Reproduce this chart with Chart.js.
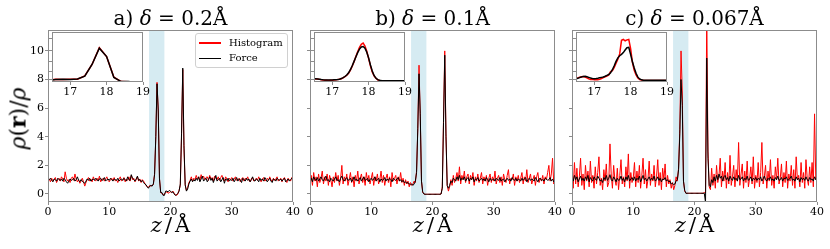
<!DOCTYPE html>
<html>
<head>
<meta charset="utf-8">
<script src="https://cdn.jsdelivr.net/npm/chart.js@4.4.1/dist/chart.umd.min.js"></script>
<style>
  html, body { margin: 0; padding: 0; background: #fff; }
  #fig { position: relative; width: 830px; height: 249px; overflow: hidden; font-family: 'DejaVu Serif', serif; color: #000; }
  .abs { position: absolute; }
  .title { font-size: 20px; line-height: 20px; text-align: center; white-space: nowrap; }
  .xlab { font-size: 21px; line-height: 21px; text-align: center; white-space: nowrap; }
  .ylab { font-size: 22px; line-height: 22px; width: 100px; text-align: center; transform: rotate(-90deg); white-space: nowrap; }
  .legend { border: 1px solid #d0d0d0; border-radius: 3px; background: rgba(255,255,255,0.8); box-sizing: border-box; font-size: 10px; }
  .legend .sw { position: absolute; left: 3px; width: 22px; height: 1.5px; }
  .legend .tx { position: absolute; left: 33px; line-height: 12px; }
</style>
</head>
<body>
<div id="fig"></div>
<script>
// grid of the density profiles (Å)
const zStart = 0, zStep = 0.2;
const insetStart = 16.5, insetStep = 0.05;
const bandRange = [16.5, 19];
const xTicks = [0, 10, 20, 30, 40];
const yTicks = [0, 2, 4, 6, 8, 10];
const insetXTicks = [17, 18, 19];
const insetYTicks = [0.5, 2.3, 4.6, 7.1, 10];
const seriesNames = ['Histogram', 'Force'];

// a) delta = 0.2 Å
const aHist = [
  0.95,1.05,0.85,1.1,0.9,1.0,1.15,0.8,1.0,1.1,
  0.9,1.2,1.05,0.85,1.55,1.1,0.9,1.0,0.8,1.1,
  1.2,0.95,1.4,1.05,0.85,1.0,0.75,0.9,1.1,0.85,
  0.55,0.8,1.0,1.15,0.9,1.05,0.85,1.2,1.0,0.9,
  1.1,0.95,1.25,0.85,1.0,1.1,0.9,1.05,1.2,0.95,
  0.85,1.0,1.1,0.95,1.15,0.9,1.0,0.8,1.05,1.2,
  0.9,1.0,1.15,0.85,1.05,0.95,1.2,0.9,1.3,1.0,
  1.1,0.85,1.0,1.2,0.9,1.05,0.8,1.0,0.9,0.75,
  0.6,0.5,0.45,0.6,0.55,0.6,0.65,1.4,4.0,7.8,
  5.8,1.1,0.1,0.05,-0.05,0.0,0.1,0.15,0.05,0.1,
  0.15,0.1,0.2,0.05,-0.05,-0.1,0.0,0.25,0.6,4.0,
  8.7,3.2,0.6,0.25,0.45,0.8,0.95,1.2,0.9,1.1,
  1.0,1.3,1.05,1.2,0.95,1.35,1.1,1.25,1.0,1.15,
  1.2,0.95,1.3,1.05,1.15,0.9,1.25,1.1,1.0,1.2,
  0.95,1.15,1.3,1.0,0.9,1.2,1.05,0.85,1.1,1.0,
  1.15,0.9,1.05,1.2,0.95,1.0,1.1,0.85,1.05,1.15,
  0.9,1.1,1.0,1.2,0.95,0.85,1.05,1.15,0.9,1.0,
  1.1,0.95,1.2,1.0,0.85,1.05,1.15,0.9,1.0,1.1,
  0.95,1.2,1.0,0.85,1.1,0.95,1.05,1.2,0.9,1.0,
  1.1,0.85,1.05,1.15,0.95,0.8,1.1,1.0,0.9,1.15,1.05
];
const aForce = [
  0.9,1.0,1.1,0.95,0.85,1.05,1.0,0.9,1.1,1.0,
  0.95,1.05,0.9,1.1,1.0,0.85,0.75,0.9,1.05,0.95,
  1.0,1.1,0.9,1.0,1.2,0.95,0.85,1.0,0.9,0.8,
  0.75,0.9,1.05,0.95,1.1,0.9,1.0,1.05,0.95,1.1,
  1.0,0.9,1.05,1.1,0.95,1.0,1.15,0.9,1.0,1.05,
  0.95,1.1,1.0,0.9,1.05,1.0,0.95,1.1,0.9,1.0,
  1.05,0.95,1.1,1.0,0.9,1.2,1.0,0.95,1.35,1.1,
  1.0,0.9,1.05,1.25,0.95,1.0,0.85,0.95,0.8,0.7,
  0.65,0.5,0.4,0.55,0.6,0.55,0.7,1.35,4.0,7.7,
  5.8,1.05,0.1,0.1,-0.1,-0.1,0.2,0.2,0.15,0.25,
  0.2,0.1,0.15,0.0,-0.1,-0.05,0.05,0.2,0.7,4.2,
  8.8,3.4,0.65,0.2,0.35,0.7,0.9,1.05,0.85,1.0,
  0.9,1.1,0.95,1.2,0.85,1.05,1.25,0.9,1.0,1.1,
  0.85,1.0,1.2,0.95,1.1,0.8,1.05,1.3,0.9,1.0,
  1.1,0.85,1.0,1.15,0.75,1.05,0.95,1.1,0.9,1.0,
  0.95,1.1,0.85,1.0,1.15,0.9,1.05,1.0,0.8,1.1,
  1.0,0.9,1.1,0.95,1.05,0.85,1.0,1.2,0.95,0.9,
  1.05,1.0,0.85,1.1,0.95,1.05,0.9,1.15,1.0,0.85,
  1.0,1.1,0.9,0.8,1.05,1.0,0.9,1.1,1.0,0.95,
  1.05,0.9,1.0,1.1,0.85,0.95,1.05,0.9,1.0,1.1,1.0
];

// b) delta = 0.1 Å
const bHist = [
  0.7,1.3,0.6,1.5,0.9,1.2,0.5,1.4,0.8,1.1,
  1.6,0.7,1.2,0.9,1.4,0.6,1.3,1.0,0.5,1.2,
  0.8,1.5,0.9,1.3,0.6,1.1,2.0,0.7,1.2,0.9,
  1.4,0.6,1.0,1.5,0.8,1.2,0.5,1.3,0.9,1.6,
  0.7,1.1,1.4,0.8,1.2,0.6,1.5,0.9,1.3,0.7,
  1.1,1.5,0.6,1.2,0.9,1.4,0.7,1.0,1.6,0.8,
  1.3,0.6,1.1,1.4,0.8,1.2,0.5,1.5,0.9,1.1,
  1.3,0.7,1.2,0.9,1.5,0.8,1.1,0.6,1.0,0.7,
  0.9,0.5,0.8,0.6,0.7,0.9,0.8,1.6,4.6,9.0,
  5.4,0.9,0.1,0.0,-0.02,-0.02,-0.02,-0.02,-0.02,-0.02,
  -0.02,-0.02,-0.02,-0.02,-0.02,-0.02,-0.02,0.0,0.5,5.2,
  10.0,4.2,0.6,0.2,0.5,1.0,0.6,1.3,0.8,1.1,
  1.5,0.9,1.9,0.7,1.3,1.0,1.6,0.8,1.2,1.4,
  0.7,1.3,1.0,1.5,0.6,1.2,0.9,1.4,0.8,1.1,
  1.5,0.7,1.2,0.9,1.3,0.6,1.1,1.4,0.8,1.2,
  0.9,1.6,0.7,1.1,1.3,0.8,1.2,0.6,1.4,1.0,
  0.8,1.3,1.7,0.7,1.1,1.0,1.4,0.6,1.2,0.9,
  1.3,0.8,1.1,1.5,0.7,1.2,0.9,1.7,0.8,1.1,
  1.4,0.7,1.0,1.3,0.6,1.2,1.5,0.8,1.1,0.9,
  1.3,0.7,1.2,1.0,1.5,2.0,0.9,1.4,2.5,0.7,1.1
];
const bForce = [
  0.9,1.1,0.85,1.2,1.0,0.95,1.15,0.9,1.05,1.2,
  1.0,0.9,1.1,1.25,0.95,1.0,0.85,1.1,1.0,0.9,
  1.05,1.2,0.95,1.0,0.85,1.1,1.25,1.0,0.9,1.05,
  1.15,0.95,1.0,1.1,0.85,1.0,1.2,0.95,1.05,0.9,
  1.0,1.15,0.9,1.05,1.2,0.95,1.0,1.1,0.85,1.0,
  1.1,0.95,1.05,1.2,0.9,1.0,1.1,0.85,1.05,0.95,
  1.0,1.15,0.9,1.05,0.95,1.1,1.0,0.85,1.1,1.0,
  0.95,1.05,1.15,0.9,1.0,0.85,0.95,0.8,0.85,0.75,
  0.8,0.7,0.65,0.7,0.6,0.7,0.9,1.5,4.6,8.4,
  5.6,0.9,0.15,0.0,-0.02,-0.02,-0.02,-0.02,-0.02,-0.02,
  -0.02,-0.02,-0.02,-0.02,-0.02,-0.02,-0.02,0.0,0.4,5.0,
  9.7,4.0,0.6,0.4,0.6,0.9,0.8,1.1,1.0,0.9,
  1.2,1.0,1.3,0.95,1.1,1.0,1.2,0.9,1.05,1.15,
  0.9,1.1,1.0,1.2,0.85,1.05,1.0,1.15,0.9,1.0,
  1.1,0.95,1.05,0.9,1.15,1.0,0.85,1.1,0.95,1.0,
  1.05,0.9,1.1,1.0,0.95,1.15,0.9,1.0,1.05,0.85,
  1.0,1.1,0.95,1.05,0.9,1.15,1.0,0.95,1.1,0.9,
  1.05,1.0,0.9,1.1,0.95,1.05,1.15,0.85,1.0,1.1,
  0.95,1.05,1.0,0.9,1.15,1.0,0.85,1.05,1.1,0.95,
  1.0,0.9,1.1,1.05,0.95,1.0,1.15,0.9,1.05,0.85,1.0
];

// c) delta = 0.067 Å
const cHist = [
  1.5,0.4,2.2,0.7,1.8,0.5,1.2,2.5,0.6,1.4,
  0.3,2.0,0.9,1.6,0.5,2.3,0.8,1.3,0.4,1.9,
  0.7,1.5,2.6,0.6,1.1,0.3,1.7,0.9,2.1,0.5,
  0.8,3.5,1.4,0.4,2.0,1.0,0.6,1.8,0.3,1.3,
  2.4,0.7,1.2,0.5,1.9,0.9,2.8,0.4,1.5,0.8,
  1.1,2.2,0.5,1.6,0.8,2.0,0.4,1.3,2.5,0.7,
  1.7,0.4,1.0,2.3,0.6,1.4,0.9,2.0,0.5,1.2,
  2.4,0.6,1.5,0.3,1.8,1.0,2.1,0.5,1.3,0.7,
  1.0,0.4,0.8,0.3,0.6,1.2,0.9,1.8,4.5,10.0,
  7.2,0.9,0.2,0.05,0.05,0.05,0.05,0.05,0.05,0.05,
  0.05,0.05,0.05,0.05,0.05,0.05,0.05,0.05,0.1,0.1,
  12.5,3.0,0.5,0.3,1.8,0.6,1.4,0.4,2.0,0.8,
  1.3,2.5,0.5,1.6,0.9,2.2,0.4,1.5,0.7,2.7,
  0.6,1.2,2.0,0.5,1.7,0.9,3.6,0.6,1.4,2.1,
  0.4,1.6,0.8,2.3,0.5,1.1,1.9,0.7,2.6,0.4,
  1.3,0.8,2.2,0.5,1.5,3.6,0.7,1.2,2.0,0.4,
  1.6,0.9,2.4,0.6,1.3,0.4,1.9,1.0,2.5,0.7,
  1.1,2.1,0.5,1.5,0.8,2.3,0.4,1.4,0.9,2.0,
  0.6,1.7,0.4,2.6,1.0,1.3,0.5,2.2,0.8,1.5,
  0.4,2.4,1.1,0.6,1.9,0.8,2.2,0.5,5.6,1.0,1.5
];
const cForce = [
  1.1,0.9,1.3,1.0,1.2,0.85,1.05,1.25,0.95,1.1,
  0.9,1.2,1.0,1.3,0.85,1.15,1.0,0.9,1.2,1.05,
  0.95,1.25,1.1,0.9,1.0,0.8,1.15,1.0,1.3,0.95,
  1.1,1.35,1.0,0.9,1.2,1.05,0.85,1.1,0.95,1.0,
  1.25,0.95,1.1,0.85,1.2,1.0,1.3,0.9,1.05,1.15,
  0.95,1.2,0.9,1.1,1.0,1.25,0.85,1.05,1.3,1.0,
  1.1,0.9,1.05,1.2,0.95,1.1,1.0,1.25,0.9,1.0,
  1.2,0.95,1.1,0.85,1.05,1.0,1.15,0.9,1.0,0.85,
  0.9,0.7,0.75,0.65,0.7,0.9,1.0,1.7,4.2,8.0,
  6.2,0.9,0.25,0.05,0.05,0.05,0.05,0.05,0.05,0.05,
  0.05,0.05,0.05,0.05,0.05,0.05,0.05,0.05,0.05,-0.6,
  9.5,2.5,0.6,0.5,1.0,0.8,1.2,0.9,1.3,1.0,
  1.4,1.1,1.25,0.9,1.2,1.3,1.0,1.15,0.9,1.25,
  1.05,0.95,1.2,1.0,1.1,0.9,1.3,1.0,1.05,1.2,
  0.9,1.1,1.0,1.25,0.95,1.05,1.2,0.9,1.1,1.0,
  1.15,0.95,1.1,1.0,1.2,0.9,1.05,1.25,1.0,0.9,
  1.1,1.0,1.2,0.95,1.05,0.9,1.15,1.0,1.25,0.95,
  1.0,1.15,0.9,1.1,1.05,1.2,0.95,1.0,1.1,1.25,
  0.95,1.05,0.9,1.2,1.0,1.1,0.85,1.15,1.0,1.1,
  0.95,1.2,1.0,0.9,1.15,1.0,1.05,0.9,1.2,1.0,1.1
];

// insets, 16.5–19 Å at 0.05 Å
const bInsetHist = [
  0.78,0.70,0.66,0.60,0.52,0.46,0.40,0.38,0.36,0.40,
  0.42,0.45,0.50,0.55,0.62,0.74,0.95,1.20,1.55,2.00,
  2.70,3.60,4.60,5.80,6.90,7.90,8.60,8.90,8.20,7.00,
  5.40,3.70,2.30,1.40,0.85,0.50,0.36,0.30,0.27,0.26,
  0.25,0.26,0.25,0.24,0.25,0.25,0.24,0.25,0.25,0.24,0.25
];
const bInsetForce = [
  0.75,0.72,0.68,0.62,0.55,0.50,0.47,0.45,0.44,0.45,
  0.47,0.50,0.53,0.58,0.65,0.78,0.98,1.25,1.60,2.10,
  2.80,3.70,4.70,5.70,6.70,7.50,8.00,8.10,7.70,6.80,
  5.50,3.90,2.50,1.50,0.90,0.55,0.40,0.32,0.30,0.29,
  0.28,0.28,0.28,0.27,0.28,0.28,0.27,0.27,0.28,0.28,0.28
];
const cInsetHist = [
  0.80,0.95,1.10,1.20,1.25,1.15,0.95,0.70,0.55,0.62,
  0.50,0.58,0.52,0.60,0.80,1.00,1.20,1.35,1.60,2.40,
  2.60,3.30,4.30,5.20,6.40,9.50,9.70,9.40,9.60,9.70,
  7.60,4.50,2.70,1.60,0.90,0.55,0.45,0.38,0.35,0.34,
  0.34,0.34,0.35,0.34,0.34,0.34,0.35,0.34,0.34,0.34,0.34
];
const cInsetForce = [
  0.75,0.85,1.00,1.15,1.28,1.30,1.20,1.05,0.90,0.80,
  0.75,0.78,0.85,0.95,1.05,1.15,1.30,1.50,1.70,2.10,
  2.80,3.70,4.70,5.50,6.00,6.30,6.70,7.30,7.80,7.90,
  6.30,4.60,3.20,2.00,1.10,0.70,0.50,0.42,0.40,0.38,
  0.38,0.38,0.38,0.38,0.38,0.38,0.38,0.38,0.38,0.38,0.38
];

const RED = '#ff0000', BLACK = '#000000', FRAME = '#8c8c8c', BAND = 'rgba(173,216,230,0.5)';
const FONT = 'DejaVu Serif';

const panels = [
  { left: 48, tag: 'a)', delta: '0.2', hist: aHist, force: aForce,
    inset: { hist: aHist, force: aForce, start: zStart, step: zStep }, yLabels: true, legend: true },
  { left: 310, tag: 'b)', delta: '0.1', hist: bHist, force: bForce,
    inset: { hist: bInsetHist, force: bInsetForce, start: insetStart, step: insetStep } },
  { left: 572, tag: 'c)', delta: '0.067', hist: cHist, force: cForce,
    inset: { hist: cInsetHist, force: cInsetForce, start: insetStart, step: insetStep } }
];

const PLOT = { top: 30, w: 245, h: 172 };
const INSET = { dx: 4, top: 32, w: 91, h: 50 };

const fig = document.getElementById('fig');

const decor = {
  id: 'decor',
  beforeDraw(chart, args, o) {
    if (!o.fill) return;
    const { ctx, chartArea: a } = chart;
    ctx.save(); ctx.fillStyle = o.fill; ctx.fillRect(a.left, a.top, a.width, a.height); ctx.restore();
  },
  beforeDatasetsDraw(chart, args, o) {
    if (!o.band) return;
    const { ctx, chartArea: a, scales: { x } } = chart;
    const x0 = x.getPixelForValue(o.band[0]), x1 = x.getPixelForValue(o.band[1]);
    ctx.save(); ctx.fillStyle = BAND; ctx.fillRect(x0, a.top, x1 - x0, a.height); ctx.restore();
  },
  afterDatasetsDraw(chart) {
    const { ctx, chartArea: a } = chart;
    ctx.save(); ctx.strokeStyle = FRAME; ctx.lineWidth = 1;
    ctx.strokeRect(a.left + 0.5, a.top + 0.5, a.width - 1, a.height - 1); ctx.restore();
  }
};

function axis(min, max, ticks, o) {
  return {
    type: 'linear', min, max,
    afterBuildTicks: s => { s.ticks = ticks.map(v => ({ value: v })); },
    afterFit: s => {
      if (o.w != null) s.width = o.w;
      if (o.h != null) s.height = o.h;
      s.paddingTop = s.paddingBottom = s.paddingLeft = s.paddingRight = 0;
    },
    grid: { drawOnChartArea: false, drawTicks: true, tickLength: 3, color: FRAME },
    border: { display: false },
    ticks: { display: !!o.labels, padding: 1, color: '#000', autoSkip: false, maxRotation: 0,
             font: { family: FONT, size: 11 } }
  };
}

function series(label, vals, start, step, color, width, order) {
  return {
    label, order, borderColor: color, borderWidth: width,
    pointRadius: 0, tension: 0, fill: false,
    data: vals.map((v, i) => ({ x: start + i * step, y: v }))
  };
}

function place(left, top, w, h) {
  const wrap = document.createElement('div');
  wrap.className = 'abs';
  Object.assign(wrap.style, { left: left + 'px', top: top + 'px', width: w + 'px', height: h + 'px' });
  const cv = document.createElement('canvas');
  cv.width = w; cv.height = h;
  cv.style.width = w + 'px'; cv.style.height = h + 'px';
  wrap.appendChild(cv);
  fig.appendChild(wrap);
  return cv;
}

function text(cls, html, css) {
  const d = document.createElement('div');
  d.className = 'abs ' + cls;
  d.innerHTML = html;
  Object.assign(d.style, css);
  fig.appendChild(d);
  return d;
}

panels.forEach(p => {
  // main axes
  const yW = 48, padTop = 4, padRight = 8, xH = 20;
  const cv = place(p.left - yW, PLOT.top - padTop, yW + PLOT.w + padRight, padTop + PLOT.h + xH);
  new Chart(cv, {
    type: 'line',
    data: { datasets: [
      series(seriesNames[1], p.force, zStart, zStep, BLACK, 1, 0),
      series(seriesNames[0], p.hist, zStart, zStep, RED, 1, 1)
    ] },
    options: {
      responsive: false, animation: false, events: [], devicePixelRatio: 1,
      layout: { padding: { top: padTop, right: padRight, bottom: 0, left: 0 } },
      plugins: { legend: { display: false }, tooltip: { enabled: false }, decor: { band: bandRange } },
      scales: {
        x: axis(0, 40, xTicks, { h: xH, labels: true }),
        y: axis(-0.56, 11.46, yTicks, { w: yW, labels: p.yLabels })
      }
    },
    plugins: [decor]
  });

  // inset axes
  const iyW = 4, ipadTop = 2, ipadRight = 8, ixH = 16;
  const il = p.left + INSET.dx;
  const icv = place(il - iyW, INSET.top - ipadTop, iyW + INSET.w + ipadRight, ipadTop + INSET.h + ixH);
  new Chart(icv, {
    type: 'line',
    data: { datasets: [
      series(seriesNames[1], p.inset.force, p.inset.start, p.inset.step, BLACK, 1.5, 0),
      series(seriesNames[0], p.inset.hist, p.inset.start, p.inset.step, RED, 1.5, 1)
    ] },
    options: {
      responsive: false, animation: false, events: [], devicePixelRatio: 1,
      layout: { padding: { top: ipadTop, right: ipadRight, bottom: 0, left: 0 } },
      plugins: { legend: { display: false }, tooltip: { enabled: false }, decor: { fill: '#ffffff' } },
      scales: {
        x: axis(16.5, 19, insetXTicks, { h: ixH, labels: true }),
        y: axis(0, 11.4, insetYTicks, { w: iyW, labels: false })
      }
    },
    plugins: [decor]
  });

  // titles and axis labels
  text('title', p.tag + ' <i>δ</i> = ' + p.delta + 'Å', { left: p.left + 'px', width: PLOT.w + 'px', top: '8px' });
  text('xlab', '<i>z</i><span style="margin:0 3px">/</span>Å', { left: p.left + 'px', width: PLOT.w + 'px', top: '215px' });

  if (p.legend) {
    const lg = text('legend', '', { left: '195px', top: '33px', width: '93px', height: '35px' });
    lg.innerHTML =
      '<span class="sw" style="top:8.3px;background:' + RED + '"></span>' +
      '<span class="tx" style="top:3.3px">' + seriesNames[0] + '</span>' +
      '<span class="sw" style="top:23.8px;background:' + BLACK + '"></span>' +
      '<span class="tx" style="top:18.3px">' + seriesNames[1] + '</span>';
  }
});

text('ylab', '<i>ρ</i>(<b>r</b>)/<i>ρ</i>', { left: (18 - 50) + 'px', top: (117.5 - 11) + 'px' });
</script>
</body>
</html>
